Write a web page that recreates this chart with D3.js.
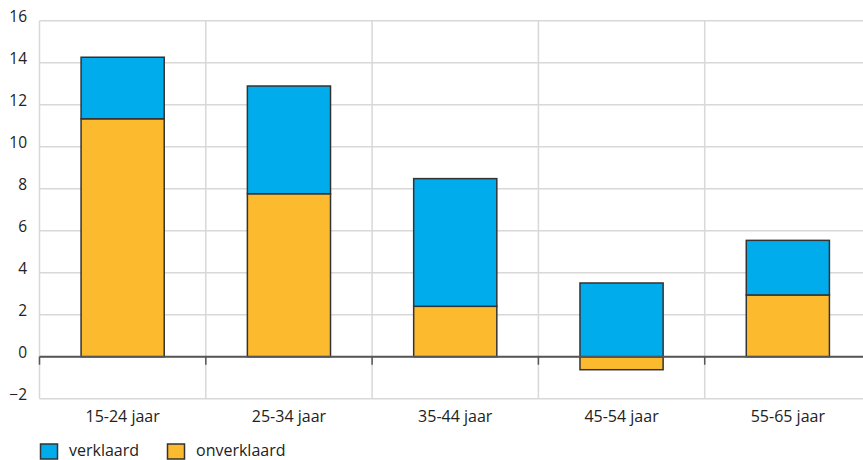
<!DOCTYPE html>
<html><head><meta charset="utf-8">
<script src="https://cdn.jsdelivr.net/npm/d3@7"></script>
<style>body{margin:0;background:#fff}svg{display:block}text{font-family:"Open Sans",sans-serif;fill:#222}</style>
</head><body>
<svg id="c" width="863" height="460"></svg>
<script>
const categories = ["15-24 jaar","25-34 jaar","35-44 jaar","45-54 jaar","55-65 jaar"];
const verklaard = [2.93, 5.13, 6.08, 3.51, 2.60];
const onverklaard = [11.33, 7.76, 2.40, -0.62, 2.94];
const yTicks = [-2,0,2,4,6,8,10,12,14,16];
const seriesNames = ["verklaard","onverklaard"];
const colors = {verklaard:"#00acec", onverklaard:"#fcba2f"};

const svg = d3.select("#c");
const x = d3.scaleBand().domain(categories).range([39.5, 871]).paddingInner(0).paddingOuter(0);
const y = d3.scaleLinear().domain([-2,16]).range([398.7, 20.7]);

// grid
const g = svg.append("g");
g.selectAll("line.h").data(yTicks).join("line")
  .attr("x1",39.5).attr("x2",863).attr("y1",d=>y(d)).attr("y2",d=>y(d))
  .attr("stroke","#d8d8d8").attr("stroke-width",1.5);
const bounds = categories.map(c=>x(c)).concat([x.range()[1]]);
g.selectAll("line.v").data(bounds).join("line")
  .attr("x1",d=>d).attr("x2",d=>d).attr("y1",y(16)).attr("y2",y(-2))
  .attr("stroke","#d8d8d8").attr("stroke-width",1.5);

// y labels
svg.append("g").selectAll("text").data(yTicks).join("text")
  .attr("x",27).attr("y",d=>y(d)).attr("dy","0.1em").attr("text-anchor","end")
  .attr("font-size",15.5).text(d=>d<0?"\u2212"+Math.abs(d):d);

// bars
const bw = x.bandwidth()*0.5;
const rows = categories.map((c,i)=>({c, v:verklaard[i], o:onverklaard[i]}));
const bars = svg.append("g");
rows.forEach(r=>{
  const x0 = x(r.c) + (x.bandwidth()-bw)/2;
  const oTop = Math.max(0,r.o), oBot = Math.min(0,r.o);
  bars.append("rect").attr("x",x0).attr("width",bw)
    .attr("y",y(oTop)).attr("height",y(oBot)-y(oTop))
    .attr("fill",colors.onverklaard).attr("stroke","#333").attr("stroke-width",1.5);
  const vBase = r.o>0 ? r.o : 0;
  bars.append("rect").attr("x",x0).attr("width",bw)
    .attr("y",y(vBase+r.v)).attr("height",y(vBase)-y(vBase+r.v))
    .attr("fill",colors.verklaard).attr("stroke","#333").attr("stroke-width",1.5);
});

// zero line + ticks
svg.append("line").attr("x1",39.5).attr("x2",863).attr("y1",y(0)).attr("y2",y(0))
  .attr("stroke","#555").attr("stroke-width",2);
svg.append("g").selectAll("line").data(bounds).join("line")
  .attr("x1",d=>d).attr("x2",d=>d).attr("y1",y(0)).attr("y2",y(0)+8)
  .attr("stroke","#555").attr("stroke-width",1.5);

// x labels
svg.append("g").selectAll("text").data(categories).join("text")
  .attr("x",d=>x(d)+x.bandwidth()/2).attr("y",422).attr("text-anchor","middle")
  .attr("font-size",16).text(d=>d);

// legend
const leg = svg.append("g");
const legX = [40.5, 167.5];
seriesNames.forEach((s,i)=>{
  leg.append("rect").attr("x",legX[i]).attr("y",444).attr("width",17).attr("height",15)
    .attr("fill",colors[s]).attr("stroke","#333").attr("stroke-width",1.5);
  leg.append("text").attr("x",legX[i]+28.5).attr("y",456).attr("font-size",16).text(s);
});
</script>
</body></html>
